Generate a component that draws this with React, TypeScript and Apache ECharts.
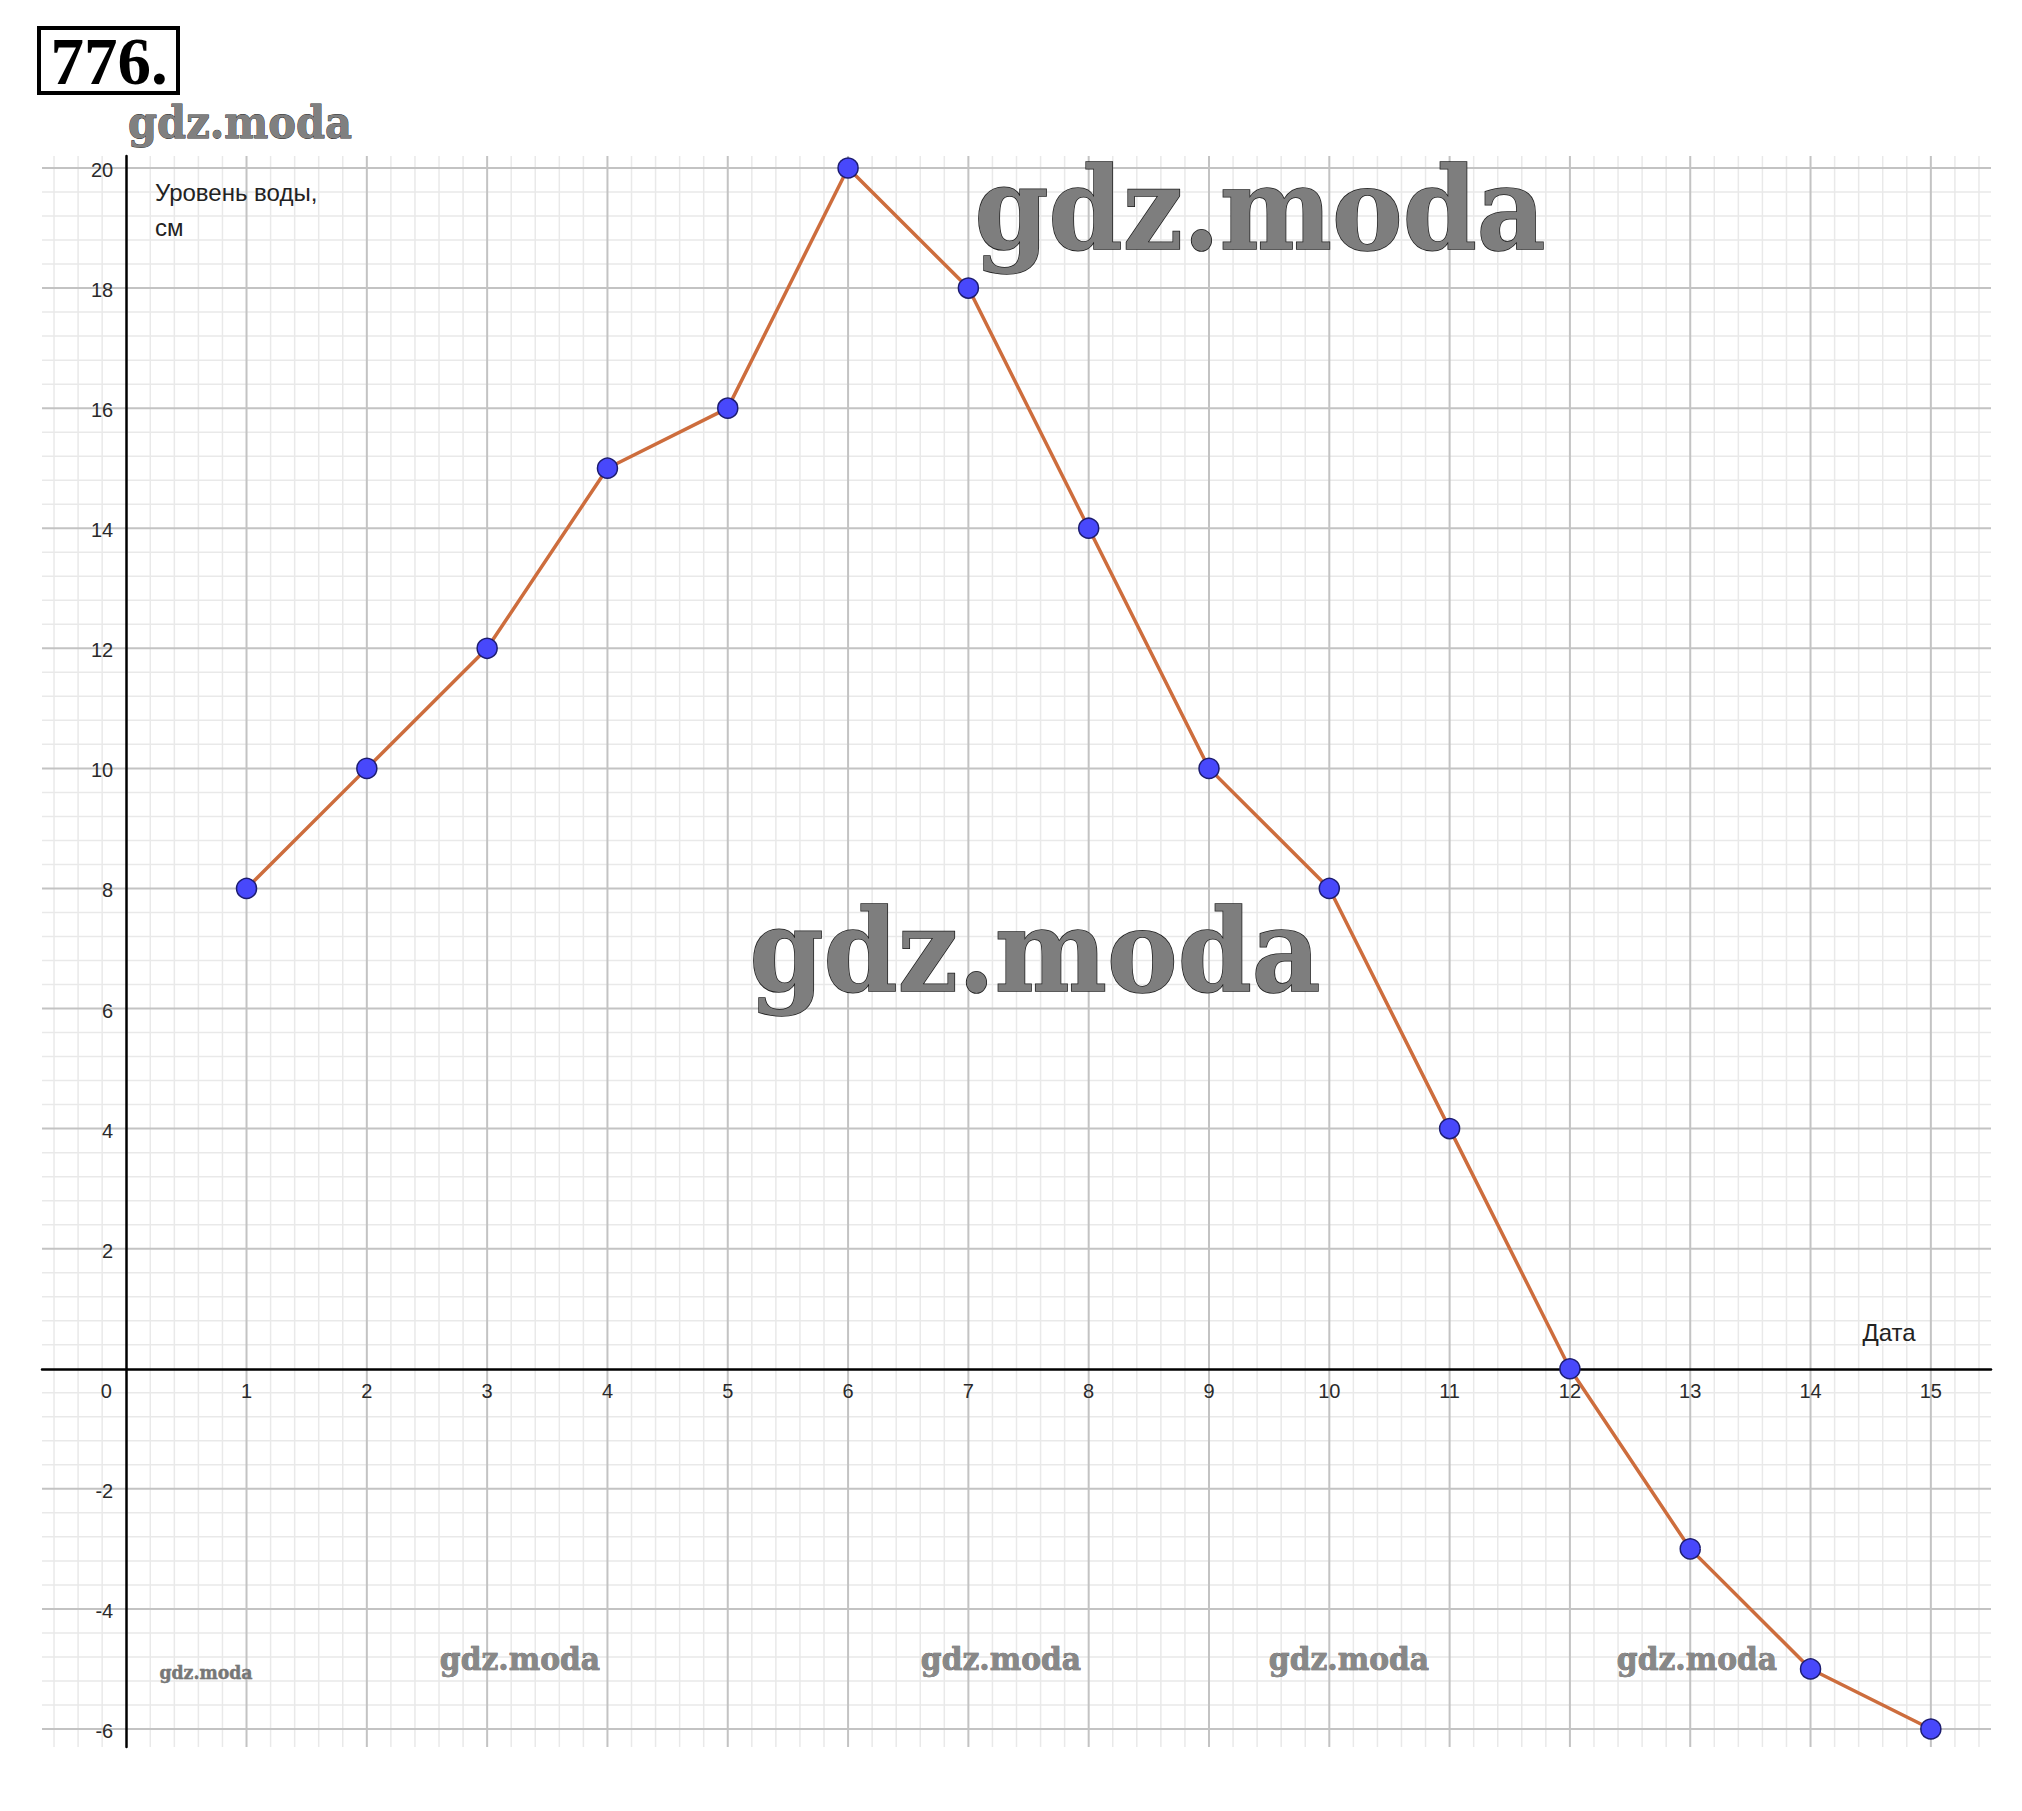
import React, { useEffect, useRef } from 'react';
import * as echarts from 'echarts';

// ---- data ----
const dates = [1, 2, 3, 4, 5, 6, 7, 8, 9, 10, 11, 12, 13, 14, 15];
const waterLevel = [8, 10, 12, 15, 16, 20, 18, 14, 10, 8, 4, 0, -3, -5, -6];

const xTickValues = [0, 1, 2, 3, 4, 5, 6, 7, 8, 9, 10, 11, 12, 13, 14, 15];
const xTickLabels = ['0', '1', '2', '3', '4', '5', '6', '7', '8', '9', '10', '11', '12', '13', '14', '15'];
const yTickValues = [-6, -4, -2, 2, 4, 6, 8, 10, 12, 14, 16, 18, 20];
const yTickLabels = ['-6', '-4', '-2', '2', '4', '6', '8', '10', '12', '14', '16', '18', '20'];

const yAxisTitle = 'Уровень воды,\nсм';
const xAxisTitle = 'Дата';
const taskNumber = '776.';
const watermark = 'gdz.moda';

// ---- axis extents ----
const X_MIN = -0.7;
const X_MAX = 15.5;
const Y_MIN = -6.3;
const Y_MAX = 20.2;

// grid line positions (styling only)
const majorX: number[] = [];
for (let i = 1; i <= 15; i++) majorX.push(i);
const minorX: number[] = [];
for (let i = -3; i <= 77; i++) if (i % 5 !== 0) minorX.push(Math.round(i * 2) / 10);
const majorY: number[] = [];
for (let i = -3; i <= 10; i++) if (i !== 0) majorY.push(i * 2);
const minorY: number[] = [];
for (let i = -15; i <= 50; i++) if (i % 5 !== 0) minorY.push(Math.round(i * 4) / 10);

const TICK_FONT = '20px "Liberation Sans", Arial, sans-serif';
const TITLE_FONT = '24px "Liberation Sans", Arial, sans-serif';
const WM_FONT = (s: number) => `bold ${s}px "DejaVu Serif", serif`;

function vLines(values: number[], color: string, width: number) {
  return {
    type: 'custom',
    coordinateSystem: 'cartesian2d',
    silent: true,
    z: 0,
    data: values.map((v) => [v, 0]),
    encode: { x: 0, y: 1 },
    renderItem: (_p: any, api: any) => {
      const v = api.value(0);
      const a = api.coord([v, Y_MIN]);
      const b = api.coord([v, Y_MAX]);
      return {
        type: 'line',
        shape: { x1: a[0], y1: a[1], x2: b[0], y2: b[1] },
        style: { stroke: color, lineWidth: width },
      };
    },
  };
}

function hLines(values: number[], color: string, width: number) {
  return {
    type: 'custom',
    coordinateSystem: 'cartesian2d',
    silent: true,
    z: 0,
    data: values.map((v) => [0, v]),
    encode: { x: 0, y: 1 },
    renderItem: (_p: any, api: any) => {
      const v = api.value(1);
      const a = api.coord([X_MIN, v]);
      const b = api.coord([X_MAX, v]);
      return {
        type: 'line',
        shape: { x1: a[0], y1: a[1], x2: b[0], y2: b[1] },
        style: { stroke: color, lineWidth: width },
      };
    },
  };
}

function wmText(cx: number, cy: number, size: number, sx: number, fill: string, stroke: string, lw: number) {
  return {
    type: 'text',
    x: cx,
    y: cy,
    scaleX: sx,
    z: 1,
    silent: true,
    style: {
      text: watermark,
      font: WM_FONT(size),
      fill,
      stroke,
      lineWidth: lw,
      align: 'center',
      verticalAlign: 'middle',
      textAlign: 'center',
      textVerticalAlign: 'middle',
    },
  };
}

export default function App() {
  const ref = useRef<HTMLDivElement>(null);

  useEffect(() => {
    if (!ref.current) return;
    const chart = echarts.init(ref.current, undefined, { renderer: 'svg' });

    const option: any = {
      animation: false,
      backgroundColor: '#ffffff',
      grid: { left: 42, top: 156, width: 1949, height: 1591, containLabel: false },
      xAxis: {
        type: 'value',
        min: X_MIN,
        max: X_MAX,
        axisLine: { show: true, onZero: true, lineStyle: { color: '#000', width: 2.5 } },
        axisTick: { show: false },
        axisLabel: { show: false },
        splitLine: { show: false },
        z: 1,
      },
      yAxis: {
        type: 'value',
        min: Y_MIN,
        max: Y_MAX,
        axisLine: { show: true, onZero: true, lineStyle: { color: '#000', width: 2.5 } },
        axisTick: { show: false },
        axisLabel: { show: false },
        splitLine: { show: false },
        z: 1,
      },
      series: [
        vLines(minorX, '#e9e9e9', 1.5),
        hLines(minorY, '#e9e9e9', 1.5),
        vLines(majorX, '#c3c3c3', 2),
        hLines(majorY, '#c3c3c3', 2),
        {
          type: 'custom',
          coordinateSystem: 'cartesian2d',
          silent: true,
          z: 2,
          data: xTickValues.map((v) => [v, 0]),
          encode: { x: 0, y: 1 },
          renderItem: (p: any, api: any) => {
            const v = api.value(0);
            const c = api.coord([v, 0]);
            return {
              type: 'text',
              x: c[0] + (v === 0 ? -20 : 0),
              y: c[1] + 22,
              style: {
                text: xTickLabels[p.dataIndex],
                font: TICK_FONT,
                fill: '#2a2a2a',
                align: 'center',
                verticalAlign: 'middle',
                textAlign: 'center',
                textVerticalAlign: 'middle',
              },
            };
          },
        },
        {
          type: 'custom',
          coordinateSystem: 'cartesian2d',
          silent: true,
          z: 2,
          data: yTickValues.map((v) => [0, v]),
          encode: { x: 0, y: 1 },
          renderItem: (p: any, api: any) => {
            const v = api.value(1);
            const c = api.coord([0, v]);
            return {
              type: 'text',
              x: c[0] - 13,
              y: c[1] + 2,
              style: {
                text: yTickLabels[p.dataIndex],
                font: TICK_FONT,
                fill: '#2a2a2a',
                align: 'right',
                verticalAlign: 'middle',
                textAlign: 'right',
                textVerticalAlign: 'middle',
              },
            };
          },
        },
        {
          type: 'line',
          z: 5,
          data: dates.map((d, i) => [d, waterLevel[i]]),
          symbol: 'circle',
          symbolSize: 20,
          lineStyle: { color: '#cd6d3d', width: 3.5 },
          itemStyle: { color: '#4848fb', borderColor: '#1c1c70', borderWidth: 1.5 },
        },
      ],
      graphic: [
        {
          type: 'rect',
          shape: { x: 39, y: 28, width: 139, height: 65 },
          style: { fill: 'none', stroke: '#000', lineWidth: 4 },
          z: 10,
        },
        {
          type: 'text',
          x: 109,
          y: 61,
          z: 10,
          style: {
            text: taskNumber,
            font: 'bold 67px "Liberation Serif", "Times New Roman", serif',
            fill: '#000',
            align: 'center',
            verticalAlign: 'middle',
            textAlign: 'center',
            textVerticalAlign: 'middle',
          },
        },
        {
          type: 'text',
          x: 155,
          y: 175,
          z: 3,
          style: {
            text: yAxisTitle,
            font: TITLE_FONT,
            fill: '#222',
            lineHeight: 35,
            align: 'left',
            verticalAlign: 'top',
            textAlign: 'left',
            textVerticalAlign: 'top',
          },
        },
        {
          type: 'text',
          x: 1889,
          y: 1332,
          z: 3,
          style: {
            text: xAxisTitle,
            font: TITLE_FONT,
            fill: '#222',
            align: 'center',
            verticalAlign: 'middle',
            textAlign: 'center',
            textVerticalAlign: 'middle',
          },
        },
        wmText(240, 123, 44, 0.945, '#808080', '#2a2a2a', 0.9),
        wmText(1260, 209, 114, 0.93, '#7e7e7e', '#1e1e1e', 1.6),
        wmText(1035, 951, 114, 0.93, '#7e7e7e', '#1e1e1e', 1.6),
        wmText(206, 1672, 19, 0.91, '#777', '#555', 0.4),
        wmText(520, 1659, 32, 0.93, '#888', '#444', 0.6),
        wmText(1001, 1659, 32, 0.93, '#888', '#444', 0.6),
        wmText(1349, 1659, 32, 0.93, '#888', '#444', 0.6),
        wmText(1697, 1659, 32, 0.93, '#888', '#444', 0.6),
      ],
    };

    chart.setOption(option);
    return () => chart.dispose();
  }, []);

  return (
    <div
      ref={ref}
      style={{ position: 'fixed', left: 0, top: 0, width: 2022, height: 1811, background: '#fff' }}
    />
  );
}
